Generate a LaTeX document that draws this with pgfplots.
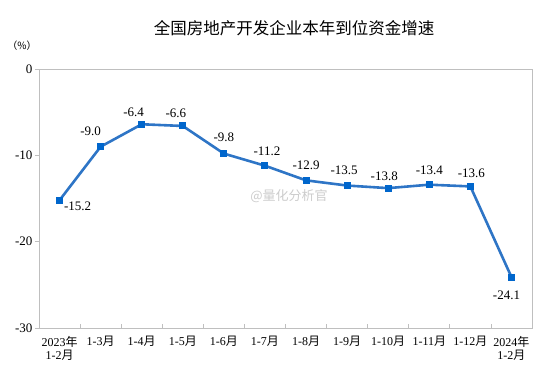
\documentclass[border=0pt]{standalone}
\usepackage{pgfplots}
\pgfplotsset{compat=1.18}
\usepackage{pgfplotstable}
\usepackage{fontspec}
\setmainfont{Liberation Serif}
\newfontfamily\cjk{Noto Sans CJK SC}
\definecolor{lineblue}{RGB}{46,117,198}
\definecolor{markblue}{RGB}{0,102,204}
\definecolor{axgray}{RGB}{191,191,191}

\pgfplotstableread{
x y dx dy lab
0 -15.2 18 -6 -15.2
1 -9.0 -10 15 -9.0
2 -6.4 -8 12 -6.4
3 -6.6 -7 13 -6.6
4 -9.8 0 16 -9.8
5 -11.2 2 14 -11.2
6 -12.9 0 15 -12.9
7 -13.5 -3 15 -13.5
8 -13.8 -4 12 -13.8
9 -13.4 0 14 -13.4
10 -13.6 1 13 -13.6
11 -24.1 -5 -18 -24.1
}\data

\begin{document}
\begin{tikzpicture}
\useasboundingbox (0,0) rectangle (554pt,388pt);
\node[text=black!20, font=\cjk\fontsize{13}{15}\selectfont] at (289pt,192pt) {@量化分析官};
\begin{axis}[
  at={(39pt,60pt)}, anchor=south west,
  width=493pt, height=259pt, scale only axis,
  xmin=-0.5, xmax=11.5, ymin=-30, ymax=0,
  ytick={-30,-20,-10,0},
  axis line style={axgray, line width=0.8pt},
  tick align=inside,
  xtick={0,...,11},
  xticklabels={{2023{\cjk 年}\\1-2{\cjk 月}},1-3{\cjk 月},1-4{\cjk 月},1-5{\cjk 月},1-6{\cjk 月},1-7{\cjk 月},1-8{\cjk 月},1-9{\cjk 月},1-10{\cjk 月},1-11{\cjk 月},1-12{\cjk 月},{2024{\cjk 年}\\1-2{\cjk 月}}},
  major x tick style={draw=none},
  minor xtick={0.5,1.5,...,10.5},
  minor tick length=4pt,
  minor x tick style={axgray, line width=0.8pt},
  xtick pos=bottom, ytick pos=left,
  major tick length=4pt,
  y tick style={axgray, line width=0.8pt, xshift=-4pt},
  xticklabel style={align=center, font=\fontsize{12}{13}\selectfont, inner sep=2pt, yshift=-6pt},
  yticklabel style={font=\fontsize{13}{15}\selectfont, xshift=-3pt},
  /pgf/number format/assume math mode=true,
  clip=false,
]
\addplot[lineblue, line width=2.6pt, mark=square*, mark size=3pt,
  mark options={fill=markblue, draw=markblue, line width=0pt},
  point meta=explicit symbolic,
  visualization depends on={\thisrow{dx}\as\dx},
  visualization depends on={\thisrow{dy}\as\dy},
  nodes near coords,
  nodes near coords style={anchor=center, xshift=\dx pt, yshift=\dy pt, text=black, font=\fontsize{13}{15}\selectfont}
] table[x=x, y=y, meta=lab] {\data};
\end{axis}
\node[font=\cjk\fontsize{16.5}{20}\selectfont] at (294pt,360pt) {全国房地产开发企业本年到位资金增速};
\node[font=\cjk\fontsize{10}{12}\selectfont] at (22pt,342pt) {（\%）};
\end{tikzpicture}
\end{document}
